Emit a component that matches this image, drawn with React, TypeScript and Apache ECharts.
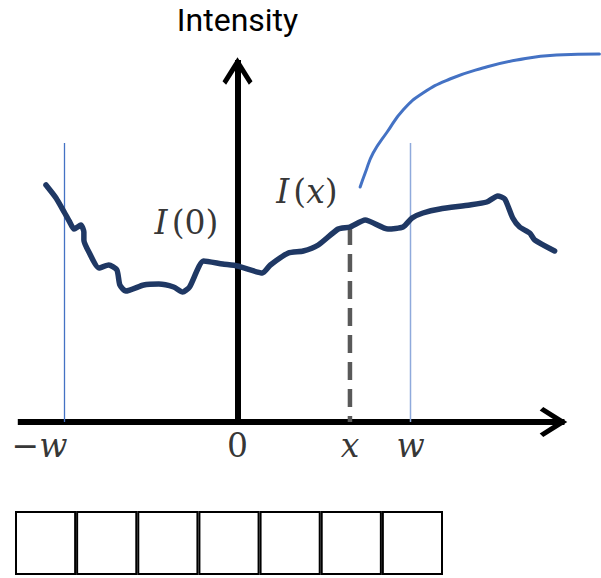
import { useEffect, useRef } from "react";
import * as echarts from "echarts";

// Horizontal positions are measured in units of the half-width w.
const halfWidth = 1;
const probeX = 0.65;

// Measured intensity profile I(x)
const profileX = [
  -1.107, -1.049, -0.999, -0.97, -0.945, -0.905, -0.888, -0.888, -0.859, -0.801,
  -0.744, -0.697, -0.68, -0.646, -0.542, -0.455, -0.369, -0.317, -0.277, -0.196,
  -0.086, 0, 0.144, 0.19, 0.294, 0.38, 0.467, 0.582, 0.65, 0.738,
  0.87, 0.957, 1.009, 1.072, 1.17, 1.343, 1.441, 1.504, 1.545, 1.591,
  1.631, 1.689, 1.718, 1.833,
];
const profileI = [
  2.37, 2.24, 2.09, 2.0, 1.93, 1.97, 1.9, 1.82, 1.7, 1.54,
  1.57, 1.52, 1.37, 1.31, 1.37, 1.38, 1.35, 1.3, 1.35, 1.61,
  1.58, 1.56, 1.49, 1.57, 1.69, 1.71, 1.77, 1.93, 1.95, 2.02,
  1.93, 1.95, 2.04, 2.09, 2.13, 2.17, 2.2, 2.26, 2.23, 2.04,
  1.95, 1.89, 1.82, 1.71,
];

// Rising trend curve in the upper right
const trendX = [0.709, 0.738, 0.784, 0.865, 0.957, 1.072, 1.228, 1.418, 1.614, 1.844, 2.092];
const trendI = [2.35, 2.49, 2.69, 2.9, 3.12, 3.29, 3.43, 3.54, 3.62, 3.67, 3.68];

// Height of the thin window guides at -w and w
const guideTop = 2.79;

// Labels under the horizontal axis
const tickValues = [-halfWidth, 0, probeX, halfWidth];
const tickLabels = ["−w", "0", "x", "w"];

// Row of window cells below the plot
const windowCells = ["1", "2", "3", "4", "5", "6", "7"];
const cellFill = [1, 1, 1, 1, 1, 1, 1];

// Plot frame: 1 unit of x = 173 px, 1 unit of intensity = 100 px
const pxPerX = 173;
const pxPerI = 100;
const originX = 237.5;
const plotTop = 60;
const plotHeight = 362;
const xMin = -1.27;
const xMax = 1.89;
const plotLeft = originX + xMin * pxPerX;
const yMax = plotHeight / pxPerI;

// The trend curve runs past the arrow tips, so it sits on a wider overlay frame
// with the same scale.
const overlayTop = 40;
const overlayRightX = xMin + (601 - plotLeft) / pxPerX;
const overlayYMax = (plotHeight + plotTop - overlayTop) / pxPerI;

const chevron = "path://M50,0L100,80L88,92L50,32L12,92L0,80Z";
const mathFont = "DejaVu Serif";

const richMath = {
  it: { fontFamily: mathFont, fontStyle: "italic" as const, fontSize: 33, color: "#000" },
  iv: {
    fontFamily: mathFont,
    fontStyle: "italic" as const,
    fontSize: 33,
    color: "#000",
    padding: [0, 4, 0, 0],
  },
  up: { fontFamily: mathFont, fontStyle: "normal" as const, fontSize: 33, color: "#000" },
};

function mathRich(s: string): string {
  if (s === "−w") return "{up|−}{it|w}";
  if (s === "0") return "{up|0}";
  return `{it|${s}}`;
}

const valueAt = (x: number) => profileI[profileX.indexOf(x)];

function buildOption(): echarts.EChartsOption {
  const axisLine = {
    show: true,
    onZero: true,
    symbol: ["none", chevron],
    symbolSize: [30, 28],
    symbolOffset: [0, -11],
    lineStyle: { color: "#000", width: 6, cap: "butt" as const },
  };
  const plotWidth = (xMax - xMin) * pxPerX;

  return {
    animation: false,
    backgroundColor: "#fff",
    grid: [
      { left: plotLeft, top: plotTop, width: plotWidth, height: plotHeight },
      { left: 15, top: 511, width: 428, height: 64 },
      {
        left: plotLeft,
        top: overlayTop,
        width: 601 - plotLeft,
        height: plotHeight + plotTop - overlayTop,
      },
    ],
    xAxis: [
      {
        type: "value",
        gridIndex: 0,
        min: xMin,
        max: xMax,
        axisLine,
        axisTick: { show: false },
        axisLabel: { show: false },
        splitLine: { show: false },
      },
      { type: "category", gridIndex: 1, data: windowCells, show: false },
      { type: "value", gridIndex: 2, min: xMin, max: overlayRightX, show: false },
    ],
    yAxis: [
      {
        type: "value",
        gridIndex: 0,
        min: 0,
        max: yMax,
        name: "Intensity",
        nameLocation: "end",
        nameGap: 24,
        nameTextStyle: { fontFamily: "Roboto", fontSize: 32, lineHeight: 32, color: "#000" },
        axisLine,
        axisTick: { show: false },
        axisLabel: { show: false },
        splitLine: { show: false },
      },
      { type: "value", gridIndex: 1, min: 0, max: 1, show: false },
      { type: "value", gridIndex: 2, min: 0, max: overlayYMax, show: false },
    ],
    series: [
      {
        type: "line",
        name: "window -w",
        data: [[-halfWidth, 0], [-halfWidth, guideTop]],
        showSymbol: false,
        silent: true,
        lineStyle: { color: "#4472C4", width: 1.3 },
        z: 1,
      },
      {
        type: "line",
        name: "window w",
        data: [[halfWidth, 0], [halfWidth, guideTop]],
        showSymbol: false,
        silent: true,
        lineStyle: { color: "#8FAADC", width: 1.5 },
        z: 1,
      },
      {
        type: "line",
        name: "probe",
        data: [[probeX, valueAt(probeX)], [probeX, 0]],
        showSymbol: false,
        silent: true,
        lineStyle: { color: "#595959", width: 4.5, type: [18, 9], cap: "butt" },
        z: 2,
      },
      {
        type: "line",
        name: "I(x)",
        data: profileX.map((x, i) => [x, profileI[i]]),
        showSymbol: false,
        smooth: 0.2,
        silent: true,
        lineStyle: { color: "#1F3864", width: 5.5, join: "round", cap: "round" },
        z: 3,
      },
      {
        type: "line",
        name: "trend",
        xAxisIndex: 2,
        yAxisIndex: 2,
        data: trendX.map((x, i) => [x, trendI[i]]),
        showSymbol: false,
        smooth: true,
        clip: false,
        silent: true,
        lineStyle: { color: "#4472C4", width: 3, cap: "round" },
        z: 3,
      },
      {
        type: "scatter",
        name: "ticks",
        symbolSize: 0,
        silent: true,
        data: tickValues.map((v, i) => ({
          value: [v, 0],
          name: tickLabels[i],
          label: i === 0 ? { offset: [-25, 0] } : undefined,
        })),
        label: {
          show: true,
          position: "bottom",
          distance: 7,
          color: "#000",
          formatter: (p: any) => mathRich(p.name),
          rich: richMath,
        },
        z: 4,
      },
      {
        type: "scatter",
        name: "point labels",
        symbolSize: 0,
        silent: true,
        data: [
          { value: [0, valueAt(0)], name: "{iv|I}{up|(0)}", label: { offset: [-51, -44] } },
          {
            value: [probeX, valueAt(probeX)],
            name: "{iv|I}{up|(}{it|x}{up|)}",
            label: { offset: [-43, -36] },
          },
        ],
        label: {
          show: true,
          position: "inside",
          color: "#000",
          formatter: (p: any) => p.name,
          rich: richMath,
        },
        z: 4,
      },
      {
        type: "bar",
        name: "cells",
        xAxisIndex: 1,
        yAxisIndex: 1,
        data: cellFill,
        barCategoryGap: "0%",
        silent: true,
        itemStyle: { color: "#fff", borderColor: "#000", borderWidth: 2 },
      },
    ],
  };
}

export default function App() {
  const ref = useRef<HTMLDivElement>(null);
  useEffect(() => {
    if (!ref.current) return;
    const chart = echarts.init(ref.current, null, { renderer: "svg" });
    chart.setOption(buildOption());
    return () => chart.dispose();
  }, []);
  return (
    <div
      ref={ref}
      style={{ position: "fixed", left: 0, top: 0, width: 601, height: 578, background: "#fff" }}
    />
  );
}
